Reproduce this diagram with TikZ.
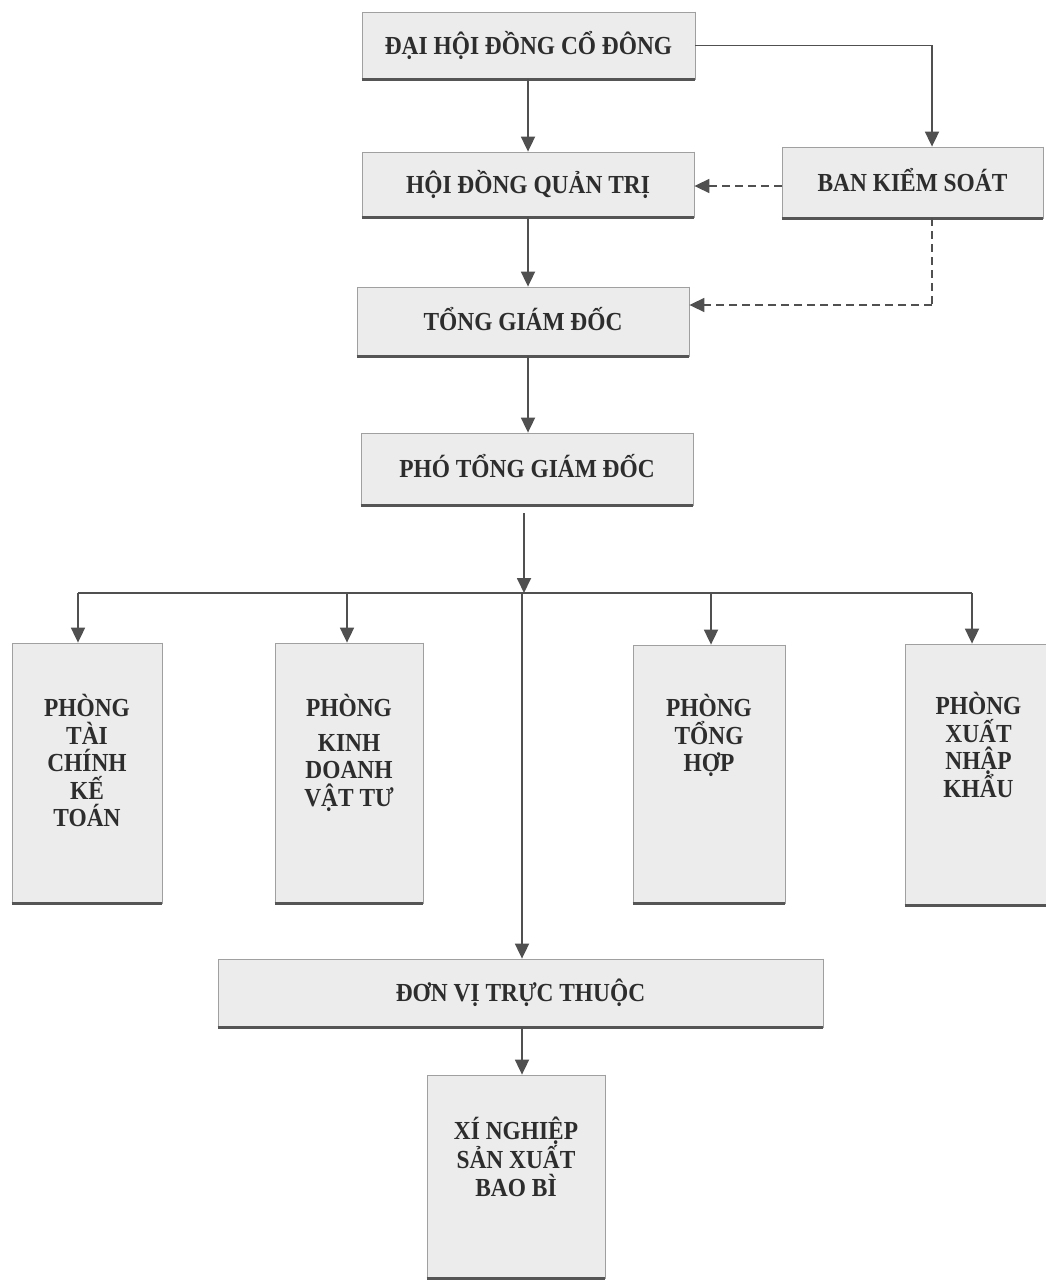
\documentclass[tikz,border=0pt]{standalone}
\usepackage{fontspec}
\setmainfont{Liberation Serif}[FakeStretch=0.9]
\usetikzlibrary{arrows.meta}
\definecolor{boxfill}{RGB}{236,236,236}
\definecolor{boxline}{RGB}{160,160,160}
\definecolor{shadowc}{RGB}{85,85,85}
\definecolor{linec}{RGB}{80,80,80}
\definecolor{textc}{RGB}{45,45,45}
\tikzset{
  boxstyle/.style={rectangle, draw=boxline, fill=boxfill, line width=0.8pt, inner sep=0pt,
    text=textc, font={\bfseries\fontsize{26}{27.5}\selectfont}},
  hbox/.style={boxstyle, text height=17pt, text depth=0pt},
  vtext/.style={anchor=north, align=center, inner sep=0pt, text=textc,
    font={\bfseries\fontsize{26}{27.5}\selectfont\lineskiplimit=-30pt}},
  conn/.style={draw=linec, line width=1.8pt, -{Triangle[length=15pt,width=14pt]}},
  plainconn/.style={draw=linec, line width=1.8pt},
  dconn/.style={draw=linec, line width=1.6pt, dash pattern=on 8pt off 5pt, -{Triangle[length=15pt,width=14pt]}},
  dplain/.style={draw=linec, line width=1.6pt, dash pattern=on 8pt off 5pt},
  shadowline/.style={draw=shadowc, line width=3pt},
  sideline/.style={draw=gray!75, line width=1.2pt}
}
\begin{document}
\begin{tikzpicture}[x=1pt,y=-1pt]
\useasboundingbox[fill=white] (0,0) rectangle (1046,1282);
% top boxes
\node[hbox, minimum width=333pt, minimum height=67pt] (dh) at (528.5,45.5) {ĐẠI HỘI ĐỒNG CỔ ĐÔNG};
\node[hbox, minimum width=332pt, minimum height=65pt] (hd) at (528,184.5) {HỘI ĐỒNG QUẢN TRỊ};
\node[hbox, minimum width=261pt, minimum height=71pt] (bk) at (912.5,182.5) {BAN KIỂM SOÁT};
\node[hbox, minimum width=332pt, minimum height=69pt] (tg) at (523,321.5) {TỔNG GIÁM ĐỐC};
\node[hbox, minimum width=332pt, minimum height=72pt] (pt) at (527,469) {PHÓ TỔNG GIÁM ĐỐC};
% departments
\node[boxstyle, minimum width=150pt, minimum height=260pt] (p1) at (87,773) {};
\node[boxstyle, minimum width=148pt, minimum height=260pt] (p2) at (349,773) {};
\node[boxstyle, minimum width=152pt, minimum height=258pt] (p3) at (709,774) {};
\node[boxstyle, minimum width=147pt, minimum height=261pt] (p4) at (978.5,774.5) {};
\node[hbox, minimum width=605pt, minimum height=68pt] (dv) at (520.5,993) {ĐƠN VỊ TRỰC THUỘC};
\node[boxstyle, minimum width=178pt, minimum height=203pt] (xn) at (516,1176.5) {};
% shadows
\foreach \n in {dh,hd,bk,tg,pt,p1,p2,p3,p4,dv,xn}{
  \draw[sideline] (\n.north east) -- (\n.south east);
  \draw[shadowline] (\n.south west) -- (\n.south east);
}
% texts of tall boxes
\node[vtext] (p1t) at (87,694) {PHÒNG\\TÀI\\CHÍNH\\KẾ\\TOÁN};
\node[vtext] (p2t) at (349,694) {PHÒNG\\[7pt]KINH\\DOANH\\VẬT TƯ};
\node[vtext] (p3t) at (709,694) {PHÒNG\\TỔNG\\HỢP};
\node[vtext] (p4t) at (978.5,692) {PHÒNG\\XUẤT\\NHẬP\\KHẨU};
\node[vtext, font={\bfseries\fontsize{26}{28.5}\selectfont\lineskiplimit=-30pt}] (xnt) at (516,1117) {XÍ NGHIỆP\\SẢN XUẤT\\BAO BÌ};
% coordinates
\coordinate (bkturn) at (932,45.5);
\coordinate (bkdown) at (932,305);
\coordinate (tgin) at (tg.east |- bkdown);
\coordinate (ptout) at (524,513);
\coordinate (hub) at (524,593);
\coordinate (busl) at (78,593);
\coordinate (busr) at (972,593);
\coordinate (mid) at (522,593);
% connectors
\draw[conn] (dh.south -| 528,0) -- (hd.north -| 528,0);
\draw[conn] (dh.east) -- (bkturn) -- (bkturn |- bk.north);
\draw[dconn] (bk.west |- 0,186) -- (hd.east |- 0,186);
\draw[dplain] (bk.south -| bkdown) -- (bkdown);
\draw[dconn] (bkdown) -- (tgin);
\draw[conn] (hd.south -| 528,0) -- (tg.north -| 528,0);
\draw[conn] (tg.south -| 528,0) -- (pt.north -| 528,0);
\draw[conn] (ptout) -- (hub);
\draw[plainconn] (busl) -- (busr);
\draw[conn] (busl) -- (busl |- p1.north);
\draw[conn] (347,593) -- (p2.north -| 347,0);
\draw[conn] (711,593) -- (p3.north -| 711,0);
\draw[conn] (busr) -- (busr |- p4.north);
\draw[conn] (mid) -- (dv.north -| mid);
\draw[conn] (dv.south -| mid) -- (xn.north -| mid);
\end{tikzpicture}
\end{document}
